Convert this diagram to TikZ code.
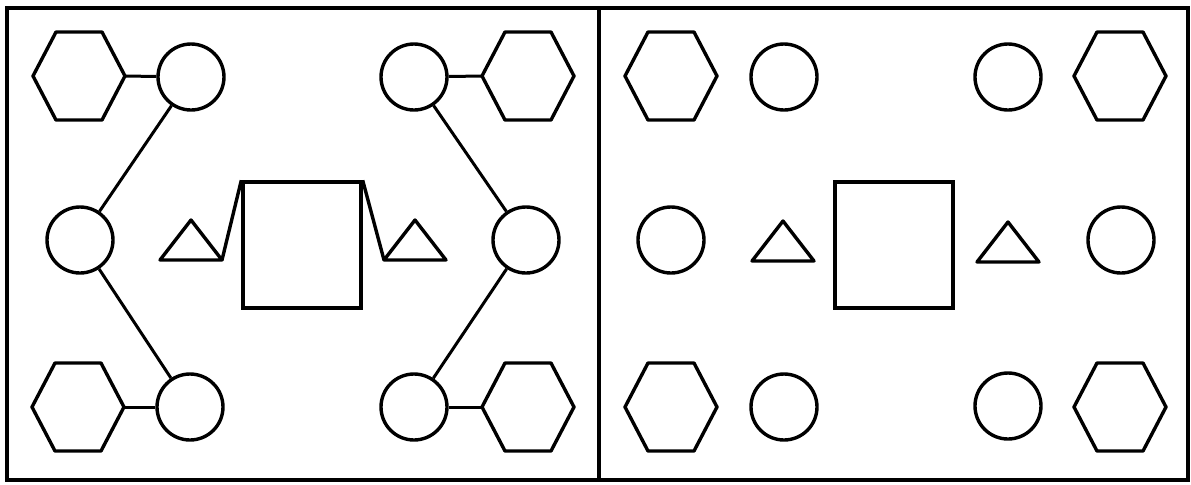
\documentclass[tikz,border=0pt]{standalone}
\begin{document}
\begin{tikzpicture}[x=0.5pt,y=-0.5pt,
  ln/.style={line width=1.7pt,line join=round},
  conn/.style={line width=1.5pt},
  ring/.style={circle,draw,line width=1.7pt,minimum size=33pt,inner sep=0pt},
  sqbox/.style={rectangle,draw,line width=1.7pt,minimum width=59pt,minimum height=63pt,inner sep=0pt},
  hexpic/.pic={\draw[ln] (-46,0) -- (-23,-44) -- (23,-44) -- (46,0) -- (23,44) -- (-23,44) -- cycle;
    \coordinate (-l) at (-46,0); \coordinate (-r) at (46,0);},
  tripic/.pic={\draw[ln] (-31,20) -- (0,-20) -- (31,20) -- cycle;
    \coordinate (-l) at (-31,20); \coordinate (-r) at (31,20);}
]
\useasboundingbox (0,0) rectangle (1191,484);
% frames
\draw[line width=1.6pt] (7,8) rectangle (599,480);
\draw[line width=1.6pt] (599,8) rectangle (1188,480);

% ---------- left panel ----------
\pic (LH1) at (79,76) {hexpic};
\pic (LH2) at (528,76) {hexpic};
\pic (LH3) at (78,407) {hexpic};
\pic (LH4) at (528,407) {hexpic};
\node[ring] (LC1) at (191,77) {};
\node[ring] (LC2) at (414,77) {};
\node[ring] (LC3) at (80,240) {};
\node[ring] (LC4) at (526,240) {};
\node[ring] (LC5) at (190,407) {};
\node[ring] (LC6) at (414,407) {};
\pic (LT1) at (191,240) {tripic};
\pic (LT2) at (415,240) {tripic};
\node[sqbox] (LS) at (302,245) {};

\draw[conn] (LH1-r) -- (LC1);
\draw[conn] (LC2) -- (LH2-l);
\draw[conn] (LH3-r) -- (LC5);
\draw[conn] (LC6) -- (LH4-l);
\draw[conn] (LC1) -- (LC3);
\draw[conn] (LC3) -- (LC5);
\draw[conn] (LC2) -- (LC4);
\draw[conn] (LC4) -- (LC6);
\draw[ln] (LT1-r) -- (LS.north west);
\draw[ln] (LS.north east) -- (LT2-l);

% ---------- right panel ----------
\pic (RH1) at (671,76) {hexpic};
\pic (RH2) at (1120,76) {hexpic};
\pic (RH3) at (671,407) {hexpic};
\pic (RH4) at (1120,407) {hexpic};
\node[ring] (RC1) at (784,77) {};
\node[ring] (RC2) at (1008,77) {};
\node[ring] (RC3) at (671,240) {};
\node[ring] (RC4) at (1121,240) {};
\node[ring] (RC5) at (784,407) {};
\node[ring] (RC6) at (1008,406) {};
\pic (RT1) at (783,241) {tripic};
\pic (RT2) at (1008,242) {tripic};
\node[sqbox] (RS) at (894,245) {};
\end{tikzpicture}
\end{document}
